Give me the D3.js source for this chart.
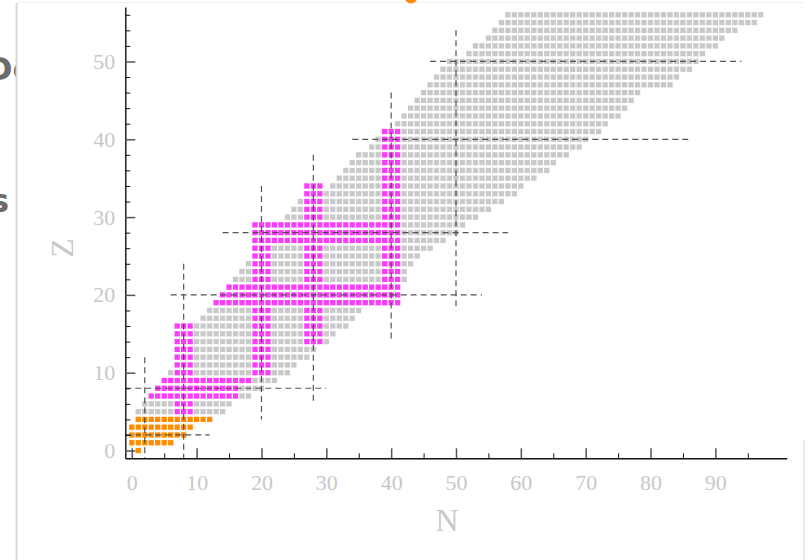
<!DOCTYPE html>
<html>
<head>
<meta charset="utf-8">
<script src="https://cdn.jsdelivr.net/npm/d3@7"></script>
<style>
  html, body { margin: 0; padding: 0; background: #ffffff; }
  svg { display: block; }
</style>
</head>
<body>
<svg id="chart" width="808" height="560"></svg>
<script>
// Rows of the nuclide chart: proton number Z and neutron range of each row
const zValues = d3.range(0, 57);
const nMin = [1, 0, 0, 0, 1, 1, 2, 3, 4, 5, 6, 7, 7, 7, 7, 7, 7, 11, 12, 13,
  14, 15, 16, 17, 18, 19, 19, 19, 19, 19, 24, 25, 26, 30, 31, 32, 33, 34, 35, 37,
  38, 39, 41, 42, 43, 44, 45, 46, 47, 48, 49, 52, 53, 55, 56, 57, 58];
const nMax = [1, 6, 8, 9, 12, 14, 15, 18, 20, 22, 24, 25, 27, 28, 30, 31, 33, 34, 35, 41,
  41, 41, 42, 42, 43, 44, 46, 48, 50, 51, 53, 55, 57, 59, 60, 62, 64, 65, 67, 69,
  70, 72, 73, 75, 76, 77, 78, 83, 84, 86, 87, 88, 90, 91, 93, 96, 97];

// Highlighted bands around the magic numbers (rows: fixed Z, columns: fixed N)
const bandRowZ = [7, 8, 9, 19, 20, 21, 27, 28, 29];
const bandRowFrom = [3, 4, 5, 13, 14, 15, 19, 19, 19];
const bandRowTo = [16, 16, 18, 41, 41, 41, 41, 41, 41];
const bandColN = [7, 8, 9, 19, 20, 21, 27, 28, 29, 39, 40, 41];
const bandColFrom = [5, 5, 5, 10, 10, 10, 14, 14, 14, 19, 19, 19];
const bandColTo = [16, 16, 16, 29, 29, 29, 34, 34, 34, 41, 41, 41];
const lightMaxZ = 4;   // lightest nuclei drawn in orange

// Magic numbers and the extent of their dashed guide lines
const magic = [2, 8, 20, 28, 40, 50];
const vLineFrom = [-1, -1, 4, 6, 14, 18];   // Z extent of the N = magic lines
const vLineTo = [12, 24, 34, 38, 46, 54];
const hLineFrom = [-1, -1, 6, 14, 34, 46];  // N extent of the Z = magic lines
const hLineTo = [12, 30, 54, 58, 86, 94];

// Axis ticks
const xMajor = d3.range(0, 100, 10);
const xMinor = d3.range(5, 100, 10);
const yMajor = d3.range(0, 51, 10);
const yMinor = d3.range(2, 57, 2).filter(v => v % 10 !== 0);

// Color combination
const colors = {
  cell: "#c9c9c9",
  band: "#fb3dfb",
  light: "#ff8c00",
  guide: "#444444",
  axis: "#111111",
  majorTick: "#555555",
  label: "#c8c8c8"
};

const svg = d3.select("#chart");

const x = d3.scaleLinear().domain([-1, 101]).range([125.3, 786.7]);
const y = d3.scaleLinear().domain([-1, 57]).range([458.3, 7]);

// Background card and pieces of the slide behind it
svg.append("text")
  .attr("x", -14).attr("y", 80)
  .attr("font-family", "DejaVu Sans, sans-serif")
  .attr("font-weight", "bold")
  .attr("font-size", 32)
  .attr("fill", "#6b6b6b")
  .text("De");
svg.append("text")
  .attr("x", -10).attr("y", 212)
  .attr("font-family", "DejaVu Sans, sans-serif")
  .attr("font-weight", "bold")
  .attr("font-size", 32)
  .attr("fill", "#6b6b6b")
  .text("s");
svg.append("rect")
  .attr("x", 17).attr("y", 3)
  .attr("width", 786).attr("height", 560)
  .attr("fill", "#ffffff");
svg.append("line")
  .attr("x1", 16.5).attr("x2", 16.5).attr("y1", 3).attr("y2", 560)
  .attr("stroke", "#d8d8d8").attr("stroke-width", 2);
svg.append("line")
  .attr("x1", 17).attr("x2", 803).attr("y1", 2.5).attr("y2", 2.5)
  .attr("stroke", "#efefef").attr("stroke-width", 1);
svg.append("line")
  .attr("x1", 804).attr("x2", 804).attr("y1", 440).attr("y2", 560)
  .attr("stroke", "#e2e2e2").attr("stroke-width", 1.5);
svg.append("circle")
  .attr("cx", 411).attr("cy", -3).attr("r", 6.5)
  .attr("fill", colors.light);

// Build the list of cells from the rows and the highlighted bands
const cells = new Map();
function addCell(n, z, band) {
  const key = n + "," + z;
  const old = cells.get(key);
  cells.set(key, { n: n, z: z, band: band || (old ? old.band : false) });
}
zValues.forEach((z, i) => {
  for (let n = nMin[i]; n <= nMax[i]; n++) addCell(n, z, false);
});
bandRowZ.forEach((z, i) => {
  for (let n = bandRowFrom[i]; n <= bandRowTo[i]; n++) addCell(n, z, true);
});
bandColN.forEach((n, i) => {
  for (let z = bandColFrom[i]; z <= bandColTo[i]; z++) addCell(n, z, true);
});

function cellColor(d) {
  if (d.z <= lightMaxZ) return colors.light;
  if (d.band) return colors.band;
  return colors.cell;
}

const size = 5.3;
svg.append("g")
  .selectAll("rect")
  .data(Array.from(cells.values()))
  .enter().append("rect")
  .attr("x", d => x(d.n) - size / 2)
  .attr("y", d => y(d.z) - size / 2)
  .attr("width", size)
  .attr("height", size)
  .attr("fill", cellColor);

// Dashed guide lines at the magic numbers
const guides = svg.append("g")
  .attr("stroke", colors.guide)
  .attr("stroke-width", 1.2)
  .attr("stroke-dasharray", "6,4")
  .attr("opacity", 0.9);

guides.selectAll("line.v")
  .data(magic)
  .enter().append("line")
  .attr("class", "v")
  .attr("x1", d => x(d)).attr("x2", d => x(d))
  .attr("y1", (d, i) => y(vLineTo[i]))
  .attr("y2", (d, i) => y(vLineFrom[i]));

guides.selectAll("line.h")
  .data(magic)
  .enter().append("line")
  .attr("class", "h")
  .attr("y1", d => y(d)).attr("y2", d => y(d))
  .attr("x1", (d, i) => x(hLineFrom[i]))
  .attr("x2", (d, i) => x(hLineTo[i]));

// Axes, ticks pointing into the plot
const xAxisY = y(-1);
const yAxisX = x(-1);

svg.append("g")
  .attr("transform", `translate(0,${xAxisY})`)
  .call(d3.axisBottom(x).tickValues(xMinor).tickSize(-5).tickFormat(""))
  .call(g => g.select(".domain").remove())
  .call(g => g.selectAll(".tick line").attr("stroke", colors.axis));

const xAxis = svg.append("g")
  .attr("transform", `translate(0,${xAxisY})`)
  .call(d3.axisBottom(x).tickValues(xMajor).tickSize(-10).tickSizeOuter(0).tickPadding(16));
xAxis.select(".domain").attr("stroke", colors.axis).attr("stroke-width", 1.4);
xAxis.selectAll(".tick line").attr("stroke", colors.majorTick).attr("stroke-width", 1.5);
xAxis.selectAll(".tick text")
  .attr("font-family", "Liberation Serif, serif")
  .attr("font-size", 22)
  .attr("fill", colors.label);

svg.append("g")
  .attr("transform", `translate(${yAxisX},0)`)
  .call(d3.axisLeft(y).tickValues(yMinor).tickSize(-5).tickFormat(""))
  .call(g => g.select(".domain").remove())
  .call(g => g.selectAll(".tick line").attr("stroke", colors.axis));

const yAxis = svg.append("g")
  .attr("transform", `translate(${yAxisX},0)`)
  .call(d3.axisLeft(y).tickValues(yMajor).tickSize(-10).tickSizeOuter(0).tickPadding(10));
yAxis.select(".domain").attr("stroke", colors.axis).attr("stroke-width", 1.4);
yAxis.selectAll(".tick line").attr("stroke", colors.majorTick).attr("stroke-width", 1.5);
yAxis.selectAll(".tick text")
  .attr("font-family", "Liberation Serif, serif")
  .attr("font-size", 22)
  .attr("fill", colors.label);

// Axis titles
svg.append("text")
  .attr("x", 447).attr("y", 531)
  .attr("text-anchor", "middle")
  .attr("font-family", "Liberation Serif, serif")
  .attr("font-size", 32)
  .attr("fill", colors.label)
  .text("N");

svg.append("text")
  .attr("transform", "translate(73,248) rotate(-90)")
  .attr("text-anchor", "middle")
  .attr("font-family", "Liberation Serif, serif")
  .attr("font-size", 32)
  .attr("fill", colors.label)
  .text("Z");
</script>
</body>
</html>
